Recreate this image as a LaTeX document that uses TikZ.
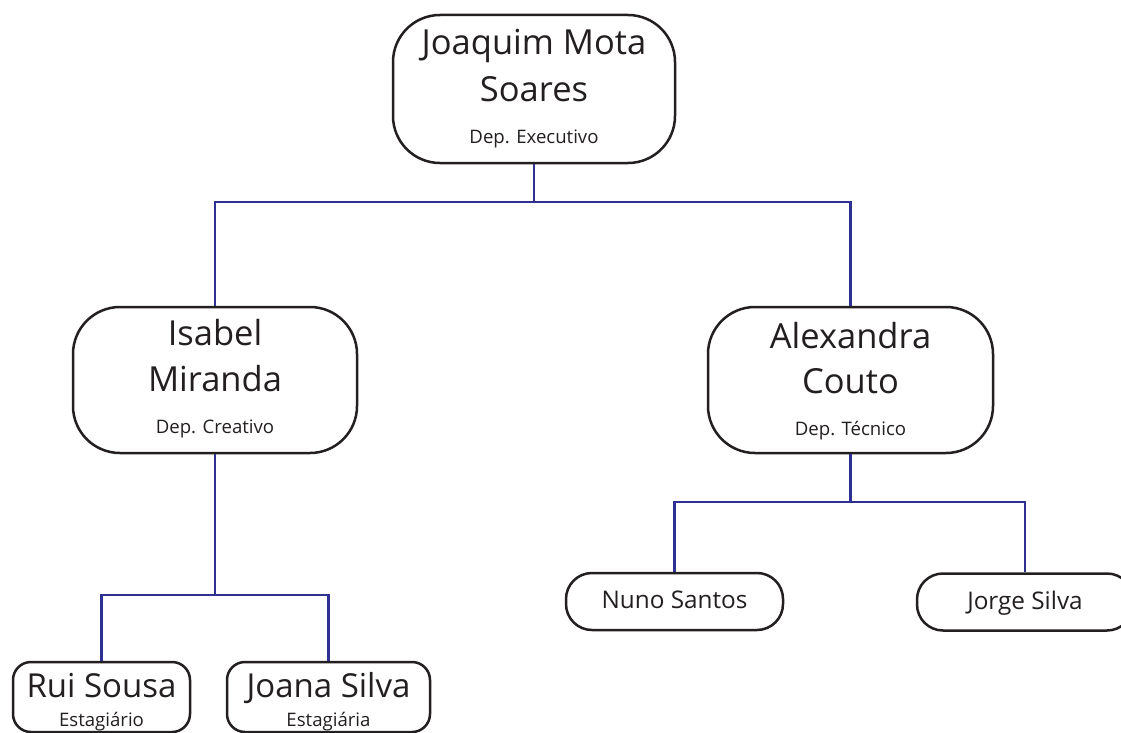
\documentclass[tikz,border=0pt]{standalone}
\usepackage{fontspec}
\setmainfont{Open Sans}
\usetikzlibrary{calc}
\definecolor{navy}{HTML}{2E3192}
\definecolor{ink}{HTML}{231F20}
\tikzset{
  bigbox/.style={draw=ink, line width=2.5pt, rounded corners=47pt, inner sep=0pt, minimum width=#1, minimum height=146pt},
  smallbox/.style={draw=ink, line width=2.5pt, rounded corners=26pt, inner sep=0pt, minimum width=#1, minimum height=57pt},
  leafbox/.style={draw=ink, line width=2.5pt, rounded corners=18pt, inner sep=0pt, minimum width=#1, minimum height=70pt},
  conn/.style={draw=navy, line width=2.4pt},
  bigname/.style={anchor=base, inner sep=0pt, text=ink, font=\fontsize{34.5}{38}\selectfont},
  leafname/.style={anchor=base, inner sep=0pt, text=ink, font=\fontsize{33}{36}\selectfont},
  dept/.style={anchor=base, inner sep=0pt, text=ink, font=\fontsize{18.6}{22}\selectfont},
  midname/.style={anchor=base, inner sep=0pt, text=ink, font=\fontsize{24.3}{28}\selectfont},
}
\begin{document}
\begin{tikzpicture}[x=1pt,y=-1pt]
\clip (0,0) rectangle (1121,733);
\fill[white] (0,0) rectangle (1121,733);

% boxes
\node[bigbox=282pt, minimum height=148pt] (top) at (534,89) {};
\node[bigbox=284pt] (isabel) at (215,380) {};
\node[bigbox=285pt] (alex) at (850.5,380) {};
\node[smallbox=217pt] (nuno) at (674.5,601.5) {};
\node[smallbox=216pt] (jorge) at (1025,602) {};
\node[leafbox=177pt] (rui) at (101.5,697) {};
\node[leafbox=203pt] (joana) at (328.5,697) {};

% texts
\node[bigname] (t1a) at ($(top.center)+(0,-34)$) {Joaquim Mota};
\node[bigname] (t1b) at ($(top.center)+(0,13)$) {Soares};
\node[dept] (t1c) at ($(top.center)+(0,54)$) {Dep. Executivo};

\node[bigname] (t2a) at ($(isabel.center)+(0,-35)$) {Isabel};
\node[bigname] (t2b) at ($(isabel.center)+(0,11)$) {Miranda};
\node[dept] (t2c) at ($(isabel.center)+(0,53)$) {Dep. Creativo};

\node[bigname] (t3a) at ($(alex.center)+(0,-32)$) {Alexandra};
\node[bigname] (t3b) at ($(alex.center)+(0,13)$) {Couto};
\node[dept] (t3c) at ($(alex.center)+(0,55)$) {Dep. Técnico};

\node[midname] (t4) at ($(nuno.center)+(0,7)$) {Nuno Santos};
\node[midname] (t5) at ($(jorge.center)+(0,7)$) {Jorge Silva};

\node[leafname] (t6a) at ($(rui.north)+(0,37)$) {Rui Sousa};
\node[dept] (t6b) at ($(rui.north)+(0,66)$) {Estagiário};
\node[leafname] (t7a) at ($(joana.north)+(0,37)$) {Joana Silva};
\node[dept] (t7b) at ($(joana.north)+(0,66)$) {Estagiária};

% connectors
\draw[conn] (top.south) -- (top.south |- 0,202) -| (isabel.north);
\draw[conn] (top.south) -- (top.south |- 0,202) -| (alex.north);
\draw[conn] (isabel.south) -- (isabel.south |- 0,595) -| (rui.north);
\draw[conn] (isabel.south) -- (isabel.south |- 0,595) -| (joana.north);
\draw[conn] (alex.south) -- (alex.south |- 0,502) -| (nuno.north);
\draw[conn] (alex.south) -- (alex.south |- 0,502) -| (jorge.north);
\end{tikzpicture}
\end{document}
